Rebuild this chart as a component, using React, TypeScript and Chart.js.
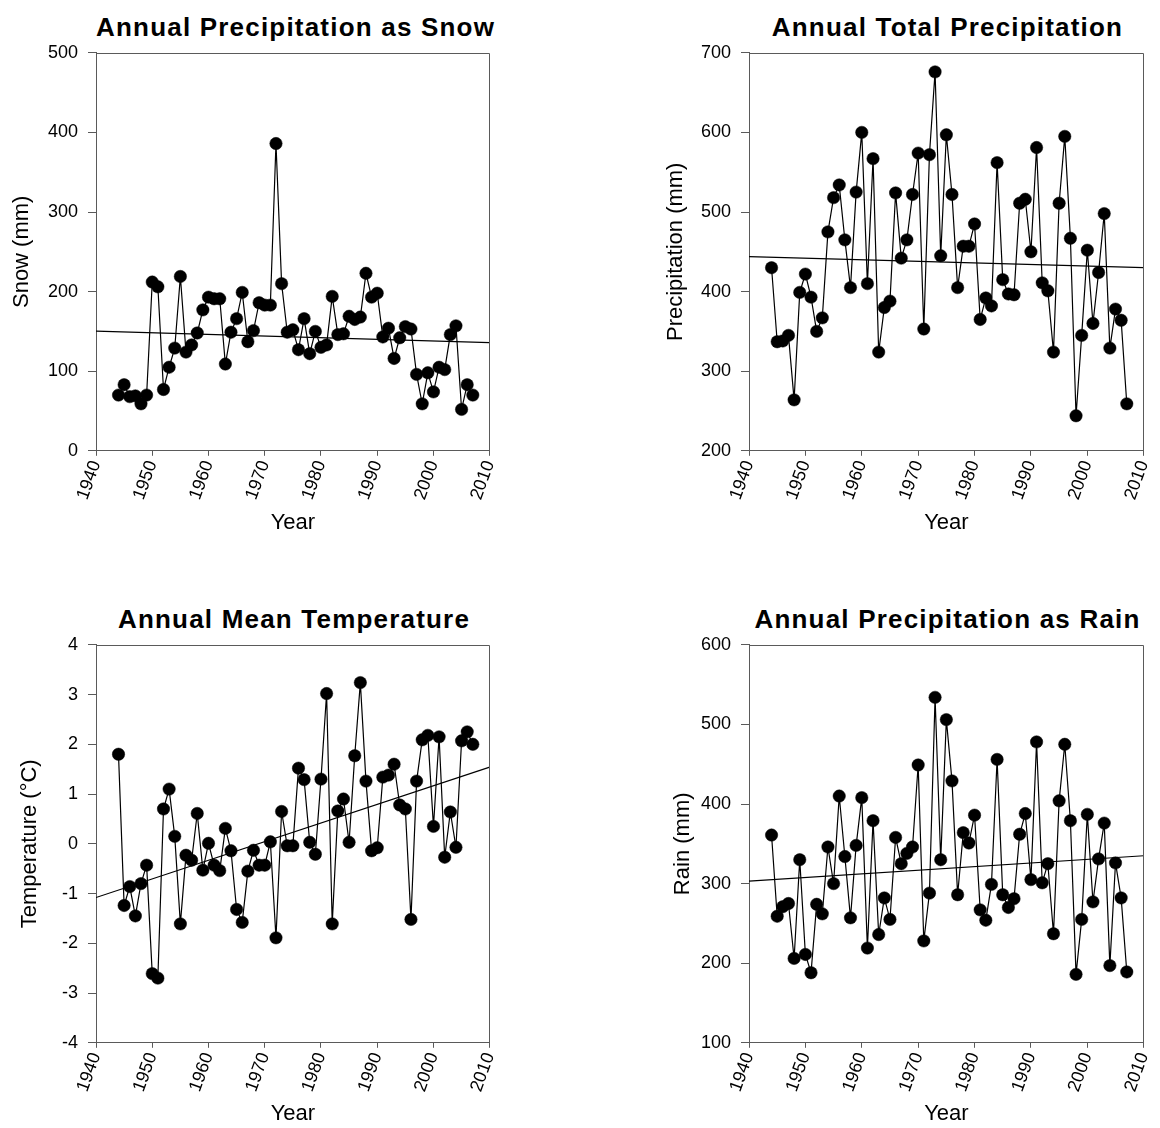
import React, { useEffect, useRef } from "react";
import { Chart, registerables } from "chart.js";

Chart.register(...registerables);

const FONT = "'Liberation Sans', Arial, Helvetica, sans-serif";
const AXIS_COLOR = "#5a5a5a";

const YEARS = [
  1944, 1945, 1946, 1947, 1948, 1949, 1950, 1951, 1952, 1953,
  1954, 1955, 1956, 1957, 1958, 1959, 1960, 1961, 1962, 1963,
  1964, 1965, 1966, 1967, 1968, 1969, 1970, 1971, 1972, 1973,
  1974, 1975, 1976, 1977, 1978, 1979, 1980, 1981, 1982, 1983,
  1984, 1985, 1986, 1987, 1988, 1989, 1990, 1991, 1992, 1993,
  1994, 1995, 1996, 1997, 1998, 1999, 2000, 2001, 2002, 2003,
  2004, 2005, 2006, 2007,
];

const SNOW = [
  70, 83, 68, 69, 59, 70, 212, 206, 77, 105,
  129, 219, 124, 133, 148, 177, 193, 191, 191, 109,
  149, 166, 199, 137, 151, 186, 183, 183, 386, 210,
  149, 152, 127, 166, 122, 150, 130, 133, 194, 146,
  147, 169, 165, 168, 223, 193, 198, 143, 154, 116,
  142, 156, 153, 96, 59, 98, 74, 105, 102, 146,
  157, 52, 83, 70,
];

const TOTAL = [
  430, 337, 338, 345, 264, 399, 422, 393, 350, 367,
  475, 518, 534, 465, 405, 525, 600, 410, 567, 324,
  380, 388, 524, 442, 465, 522, 574, 353, 572, 676,
  445, 597, 522, 405, 457, 457, 485, 365, 392, 382,
  562, 415, 397, 396, 511, 516, 450, 581, 411, 401,
  324, 511, 595, 467, 244, 345, 452, 360, 424, 498,
  329, 378, 364, 259,
];

const TEMP = [
  1.8, -1.24, -0.86, -1.45, -0.8, -0.43, -2.61, -2.7, 0.7, 1.1,
  0.15, -1.61, -0.23, -0.33, 0.61, -0.53, 0.01, -0.43, -0.54, 0.31,
  -0.14, -1.32, -1.58, -0.55, -0.13, -0.43, -0.43, 0.04, -1.89, 0.65,
  -0.04, -0.04, 1.52, 1.29, 0.03, -0.21, 1.3, 3.02, -1.61, 0.66,
  0.9, 0.03, 1.77, 3.24, 1.26, -0.14, -0.08, 1.34, 1.38, 1.6,
  0.78, 0.7, -1.52, 1.26, 2.09, 2.18, 0.35, 2.15, -0.27, 0.64,
  -0.07, 2.07, 2.25, 2.0,
];

const RAIN = [
  361, 259, 271, 275, 206, 330, 211, 188, 274, 262,
  346, 300, 410, 334, 257, 348, 408, 219, 379, 236,
  282, 255, 358, 325, 338, 346, 449, 228, 288, 534,
  330, 506, 429, 286, 364, 351, 386, 267, 254, 299,
  456, 286, 270, 281, 362, 388, 305, 478, 301, 325,
  237, 404, 475, 379, 186, 255, 387, 277, 331, 376,
  197, 326, 282, 189,
];

// Trend lines: values at the two ends of the year axis
const TREND_YEARS = [1940, 2010];
const SNOW_TREND = [150.4, 136];
const TOTAL_TREND = [444, 430];
const TEMP_TREND = [-1.08, 1.54];
const RAIN_TREND = [303, 335];

const X_MIN = 1940;
const X_MAX = 2010;
const X_STEP = 10;

type Panel = {
  title: string;
  yLabel: string;
  values: number[];
  trend: number[];
  yMin: number;
  yMax: number;
  yStep: number;
  L: number;
  R: number;
  T: number;
  B: number;
  yTitleX: number;
  xTitleY: number;
  titleBaseline: number;
};

const PANELS: Panel[] = [
  {
    title: "Annual Precipitation as Snow",
    yLabel: "Snow (mm)",
    values: SNOW,
    trend: SNOW_TREND,
    yMin: 0, yMax: 500, yStep: 100,
    L: 96, R: 492, T: 52, B: 451,
    yTitleX: 22.5, xTitleY: 523, titleBaseline: 36,
  },
  {
    title: "Annual Total Precipitation",
    yLabel: "Precipitation (mm)",
    values: TOTAL,
    trend: TOTAL_TREND,
    yMin: 200, yMax: 700, yStep: 100,
    L: 749, R: 1146, T: 52, B: 451,
    yTitleX: 676, xTitleY: 523, titleBaseline: 36,
  },
  {
    title: "Annual Mean Temperature",
    yLabel: "Temperature (°C)",
    values: TEMP,
    trend: TEMP_TREND,
    yMin: -4, yMax: 4, yStep: 1,
    L: 96, R: 492, T: 644, B: 1043,
    yTitleX: 30, xTitleY: 1114, titleBaseline: 628,
  },
  {
    title: "Annual Precipitation as Rain",
    yLabel: "Rain (mm)",
    values: RAIN,
    trend: RAIN_TREND,
    yMin: 100, yMax: 600, yStep: 100,
    L: 749, R: 1146, T: 644, B: 1043,
    yTitleX: 683, xTitleY: 1114, titleBaseline: 628,
  },
];

const framePlugin = {
  id: "frameTopRight",
  afterDraw(chart: any) {
    const { ctx, chartArea } = chart;
    const top = Math.round(chartArea.top) + 0.5;
    const right = Math.round(chartArea.right) - 0.5;
    ctx.save();
    ctx.strokeStyle = AXIS_COLOR;
    ctx.lineWidth = 1;
    ctx.beginPath();
    ctx.moveTo(chartArea.left, top);
    ctx.lineTo(right, top);
    ctx.lineTo(right, chartArea.bottom);
    ctx.stroke();
    ctx.restore();
  },
};

function PanelChart({ p }: { p: Panel }) {
  const ref = useRef<HTMLCanvasElement | null>(null);

  const yTitleHalf = 13.2;
  const canvasLeft = Math.round(p.yTitleX - yTitleHalf);
  const canvasTop = p.T - 20;
  const padTop = 20;
  const padRight = 20;
  const yAxisWidth = p.L - canvasLeft;
  const xAxisHeight = p.xTitleY + yTitleHalf - p.B;
  const padBottom = 6;
  const canvasW = p.R + padRight - canvasLeft;
  const canvasH = p.B + xAxisHeight + padBottom - canvasTop;

  useEffect(() => {
    if (!ref.current) return;
    const points = YEARS.map((yr, i) => ({ x: yr, y: p.values[i] }));
    const trendPts = TREND_YEARS.map((yr, i) => ({ x: yr, y: p.trend[i] }));
    const chart = new Chart(ref.current, {
      type: "line",
      data: {
        datasets: [
          {
            data: points,
            borderColor: "#000",
            borderWidth: 1.2,
            backgroundColor: "#000",
            pointRadius: 6.2,
            pointHoverRadius: 6.2,
            pointBackgroundColor: "#000",
            pointBorderColor: "#000",
            pointBorderWidth: 0.5,
            tension: 0,
          },
          {
            data: trendPts,
            borderColor: "#000",
            borderWidth: 1.2,
            pointRadius: 0,
            pointHoverRadius: 0,
            tension: 0,
          },
        ],
      },
      options: {
        responsive: false,
        animation: false,
        events: [],
        layout: {
          padding: { left: 0, right: padRight, top: padTop, bottom: padBottom },
        },
        plugins: {
          legend: { display: false },
          tooltip: { enabled: false },
          title: { display: false },
        },
        scales: {
          x: {
            type: "linear",
            min: X_MIN,
            max: X_MAX,
            ticks: {
              stepSize: X_STEP,
              minRotation: 70,
              maxRotation: 70,
              autoSkip: false,
              padding: 2,
              color: "#000",
              font: { family: FONT, size: 18 },
              callback: (v: any) => String(v),
            },
            grid: {
              drawOnChartArea: false,
              drawTicks: true,
              tickLength: 5,
              color: AXIS_COLOR,
              lineWidth: 1,
            },
            border: { display: true, color: AXIS_COLOR, width: 1 },
            title: {
              display: true,
              text: "Year",
              color: "#000",
              font: { family: FONT, size: 22 },
              padding: 0,
            },
            afterFit: (s: any) => {
              s.height = xAxisHeight;
            },
          },
          y: {
            type: "linear",
            min: p.yMin,
            max: p.yMax,
            ticks: {
              stepSize: p.yStep,
              padding: 10,
              color: "#000",
              font: { family: FONT, size: 18 },
              callback: (v: any) => String(v),
            },
            grid: {
              drawOnChartArea: false,
              drawTicks: true,
              tickLength: 8,
              color: AXIS_COLOR,
              lineWidth: 1,
            },
            border: { display: true, color: AXIS_COLOR, width: 1 },
            title: {
              display: true,
              text: p.yLabel,
              color: "#000",
              font: { family: FONT, size: 22 },
              padding: 0,
            },
            afterFit: (s: any) => {
              s.width = yAxisWidth;
            },
          },
        },
      },
      plugins: [framePlugin],
    } as any);
    return () => chart.destroy();
  }, []);

  return (
    <>
      <div
        style={{
          position: "absolute",
          left: p.L,
          width: p.R - p.L,
          top: p.titleBaseline - 22,
          height: 26,
          lineHeight: "26px",
          fontFamily: FONT,
          fontWeight: "bold",
          fontSize: 26,
          letterSpacing: "1.2px",
          textAlign: "center",
          whiteSpace: "nowrap",
          color: "#000",
        }}
      >
        {p.title}
      </div>
      <canvas
        ref={ref}
        width={canvasW}
        height={canvasH}
        style={{
          position: "absolute",
          left: canvasLeft,
          top: canvasTop,
          width: canvasW,
          height: canvasH,
          display: "block",
        }}
      />
    </>
  );
}

export default function App() {
  return (
    <div
      style={{
        position: "absolute",
        left: 0,
        top: 0,
        width: 1160,
        height: 1128,
        background: "#fff",
        overflow: "hidden",
      }}
    >
      {PANELS.map((p, i) => (
        <PanelChart key={i} p={p} />
      ))}
    </div>
  );
}
